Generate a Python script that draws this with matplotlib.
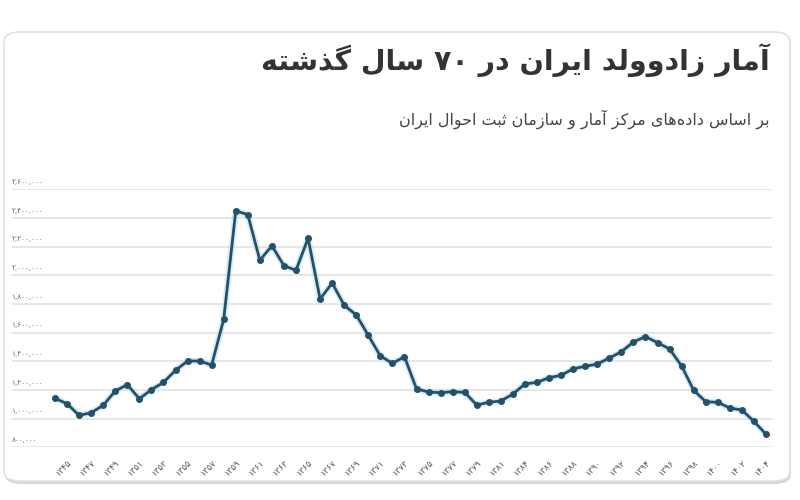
import re
import matplotlib
matplotlib.use("Agg")
import matplotlib.pyplot as plt
from matplotlib.patches import FancyBboxPatch

# ---------------- data ----------------
years = [1344, 1345, 1346, 1347, 1348, 1349, 1350, 1351, 1352, 1353,
         1354, 1355, 1356, 1357, 1358, 1359, 1360, 1361, 1362, 1363,
         1364, 1365, 1366, 1367, 1368, 1369, 1370, 1371, 1372, 1373,
         1374, 1375, 1376, 1377, 1378, 1379, 1380, 1381, 1382, 1384,
         1385, 1386, 1387, 1388, 1389, 1390, 1391, 1392, 1393, 1394,
         1395, 1396, 1397, 1398, 1399, 1400, 1401, 1402, 1403, 1404]
births = [1142000, 1104000, 1023000, 1041000, 1093000, 1193000, 1237000, 1139000, 1202000, 1253000,
          1337000, 1402000, 1402000, 1374000, 1693000, 2450000, 2423000, 2105000, 2206000, 2067000,
          2035000, 2258000, 1835000, 1946000, 1791000, 1723000, 1581000, 1437000, 1386000, 1432000,
          1207000, 1186000, 1181000, 1188000, 1183000, 1095000, 1114000, 1123000, 1172000, 1242000,
          1253000, 1286000, 1302000, 1348000, 1365000, 1381000, 1423000, 1467000, 1535000, 1572000,
          1530000, 1486000, 1367000, 1198000, 1118000, 1114000, 1074000, 1060000, 981000, 891000]
y_ticks = [800000, 1000000, 1200000, 1400000, 1600000, 1800000,
           2000000, 2200000, 2400000, 2600000]
title_text = "آمار زادوولد ایران در ۷۰ سال گذشته"
subtitle_text = "بر اساس داده\u200cهای مرکز آمار و سازمان ثبت احوال ایران"

# ---------------- Persian shaping helpers ----------------
FORMS = {
    '\u0622': ('\uFE81', '\uFE82', None, None),
    '\u0627': ('\uFE8D', '\uFE8E', None, None),
    '\u0628': ('\uFE8F', '\uFE90', '\uFE91', '\uFE92'),
    '\u062A': ('\uFE95', '\uFE96', '\uFE97', '\uFE98'),
    '\u062B': ('\uFE99', '\uFE9A', '\uFE9B', '\uFE9C'),
    '\u062D': ('\uFEA1', '\uFEA2', '\uFEA3', '\uFEA4'),
    '\u062F': ('\uFEA9', '\uFEAA', None, None),
    '\u0630': ('\uFEAB', '\uFEAC', None, None),
    '\u0631': ('\uFEAD', '\uFEAE', None, None),
    '\u0632': ('\uFEAF', '\uFEB0', None, None),
    '\u0633': ('\uFEB1', '\uFEB2', '\uFEB3', '\uFEB4'),
    '\u0634': ('\uFEB5', '\uFEB6', '\uFEB7', '\uFEB8'),
    '\u0644': ('\uFEDD', '\uFEDE', '\uFEDF', '\uFEE0'),
    '\u0645': ('\uFEE1', '\uFEE2', '\uFEE3', '\uFEE4'),
    '\u0646': ('\uFEE5', '\uFEE6', '\uFEE7', '\uFEE8'),
    '\u0647': ('\uFEE9', '\uFEEA', '\uFEEB', '\uFEEC'),
    '\u0648': ('\uFEED', '\uFEEE', None, None),
    '\u06CC': ('\uFBFC', '\uFBFD', '\uFBFE', '\uFBFF'),
    '\u06A9': ('\uFB8E', '\uFB8F', '\uFB90', '\uFB91'),
    '\u06AF': ('\uFB92', '\uFB93', '\uFB94', '\uFB95'),
}


def shape(text):
    out = []
    n = len(text)
    for i, c in enumerate(text):
        if c == '\u200c':
            continue
        if c not in FORMS:
            out.append(c)
            continue
        iso, fin, ini, med = FORMS[c]
        prev = text[i - 1] if i > 0 else ''
        nxt = text[i + 1] if i + 1 < n else ''
        pj = prev in FORMS and FORMS[prev][2] is not None
        nj = nxt in FORMS and ini is not None
        if pj and nj:
            out.append(med)
        elif pj:
            out.append(fin)
        elif nj:
            out.append(ini)
        else:
            out.append(iso)
    s = ''.join(out)[::-1]
    s = re.sub(r'[0-9\u06F0-\u06F9,]+', lambda m: m.group(0)[::-1], s)
    return s


def fa_digits(s):
    return str(s).translate(str.maketrans('0123456789', '۰۱۲۳۴۵۶۷۸۹'))


# ---------------- figure ----------------
plt.rcParams['font.family'] = ['DejaVu Sans']
W, H = 800, 500
fig = plt.figure(figsize=(8, 5), dpi=100)
fig.patch.set_facecolor('white')

# card background
shadow = FancyBboxPatch((5 / W, (H - 484) / H), 786 / W, 451 / H,
                        boxstyle="round,pad=0,rounding_size=0.02",
                        transform=fig.transFigure, facecolor='#d6d6d6',
                        edgecolor='none', zorder=-3)
card = FancyBboxPatch((4 / W, (H - 481) / H), 786 / W, 449 / H,
                      boxstyle="round,pad=0,rounding_size=0.02",
                      transform=fig.transFigure, facecolor='white',
                      edgecolor='#e2e2e2', linewidth=1.2, zorder=-2)
fig.patches.extend([shadow, card])

fig.text(770 / W, (H - 60) / H, shape(title_text), ha='right', va='center',
         fontsize=20.5, fontweight='bold', color='#333333')
fig.text(770 / W, (H - 119) / H, shape(subtitle_text), ha='right', va='center',
         fontsize=11.5, color='#444444')

# axes
x0_px, x1_px = 12, 772
y_top_px, y_bot_px = 189.3, 447.3
ax = fig.add_axes([x0_px / W, (H - y_bot_px) / H, (x1_px - x0_px) / W,
                   (y_bot_px - y_top_px) / H])
ax.set_zorder(2)
ax.set_facecolor('none')
xs = list(range(len(years)))
spacing = (766 - 55) / (len(years) - 1)
ax.set_xlim(-(55 - x0_px) / spacing, (x1_px - 55) / spacing)
ax.set_ylim(y_ticks[0], y_ticks[-1])

for s in ax.spines.values():
    s.set_visible(False)
ax.set_yticks(y_ticks)
ax.grid(axis='y', color='#e4e4e4', linewidth=1.3)
ax.set_axisbelow(True)
ax.tick_params(axis='y', left=False, labelleft=False)
for v in y_ticks:
    ax.annotate(fa_digits(f"{v:,}"), xy=(0, v), xycoords=('axes fraction', 'data'),
                xytext=(0, 3), textcoords='offset points', ha='left', va='bottom',
                fontsize=5.2, color='#666666')

ax.set_xticks(xs[1::2])
ax.set_xticklabels([fa_digits(y) for y in years[1::2]], rotation=45,
                   ha='right', rotation_mode='anchor', fontsize=6.2, color='#555555')
ax.tick_params(axis='x', bottom=False, pad=4)

# glow + line
ax.plot(xs, births, color='#a8d8ea', linewidth=4.5, alpha=0.45,
        solid_capstyle='round', clip_on=False, zorder=2)
ax.plot(xs, births, color='#25506a', linewidth=2, marker='o', markersize=4,
        markerfacecolor='#25506a', markeredgecolor='#25506a', clip_on=False, zorder=3)

fig.savefig('out.png', dpi=100, facecolor='white')
